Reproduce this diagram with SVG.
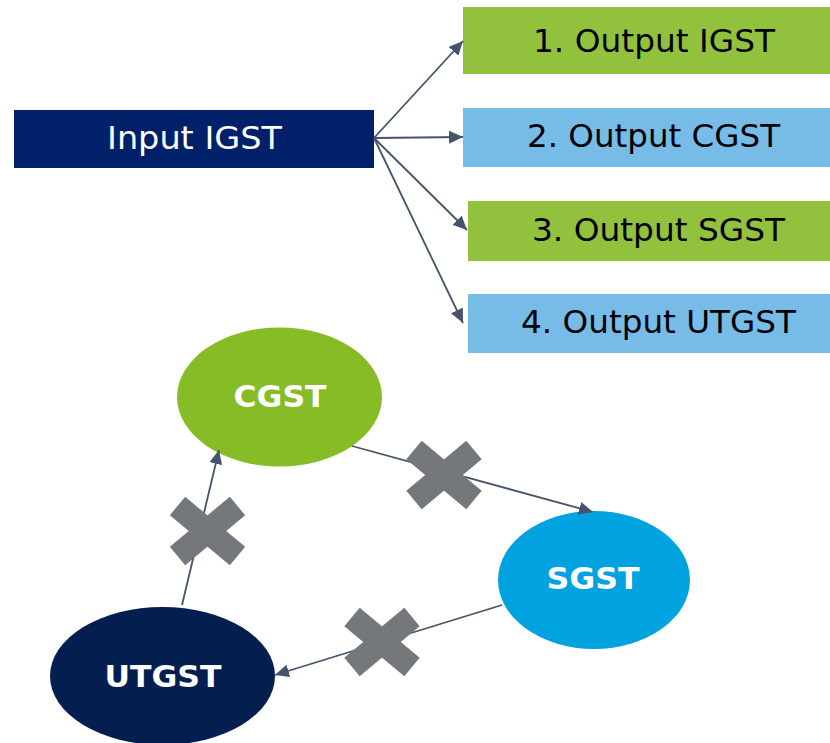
<svg xmlns="http://www.w3.org/2000/svg" width="830" height="743" viewBox="0 0 830 743">
  <style>
    .box-text { font-family: "DejaVu Sans", Verdana, sans-serif; font-size: 31.5px; }
    .node-text { font-family: "DejaVu Sans", Verdana, sans-serif; font-size: 30px; font-weight: bold; fill: #FFFFFF; text-anchor: middle; }
    .link { stroke: #44546A; stroke-width: 1.8; fill: none; marker-end: url(#arrow); }
    .cross line { stroke: #75787B; stroke-width: 24; stroke-linecap: butt; }
  </style>
  <defs>
    <marker id="arrow" markerUnits="userSpaceOnUse" markerWidth="14" markerHeight="13" viewBox="0 0 14 13" refX="14" refY="6.5" orient="auto">
      <path d="M0,0 L14,6.5 L0,13 Z" fill="#44546A"/>
    </marker>
  </defs>
  <rect width="830" height="743" fill="#FFFFFF"/>

  <!-- input and output boxes -->
  <g id="input-igst">
    <rect x="14" y="110" width="360" height="58" fill="#002169"/>
    <text class="box-text" x="107" y="149" fill="#FFFFFF" textLength="175" lengthAdjust="spacingAndGlyphs">Input IGST</text>
  </g>
  <g id="output-igst">
    <rect x="463" y="7" width="367" height="67" fill="#92C13E"/>
    <text class="box-text" x="533" y="52" fill="#000000" textLength="242" lengthAdjust="spacingAndGlyphs">1. Output IGST</text>
  </g>
  <g id="output-cgst">
    <rect x="463" y="108" width="367" height="59" fill="#76BCE7"/>
    <text class="box-text" x="527" y="147" fill="#000000" textLength="253" lengthAdjust="spacingAndGlyphs">2. Output CGST</text>
  </g>
  <g id="output-sgst">
    <rect x="468" y="201" width="362" height="60" fill="#92C13E"/>
    <text class="box-text" x="532" y="241" fill="#000000" textLength="253" lengthAdjust="spacingAndGlyphs">3. Output SGST</text>
  </g>
  <g id="output-utgst">
    <rect x="468" y="294" width="362" height="59" fill="#76BCE7"/>
    <text class="box-text" x="521" y="333" fill="#000000" textLength="275" lengthAdjust="spacingAndGlyphs">4. Output UTGST</text>
  </g>

  <!-- tax nodes -->
  <g id="cgst">
    <ellipse cx="279.5" cy="397" rx="102.5" ry="69.5" fill="#86BC25"/>
    <text class="node-text" x="280" y="407" textLength="93" lengthAdjust="spacingAndGlyphs">CGST</text>
  </g>
  <g id="sgst">
    <ellipse cx="594" cy="580" rx="96" ry="69" fill="#00A3E0"/>
    <text class="node-text" x="593" y="589" textLength="93" lengthAdjust="spacingAndGlyphs">SGST</text>
  </g>
  <g id="utgst">
    <ellipse cx="162.5" cy="676" rx="112.5" ry="69" fill="#041E50"/>
    <text class="node-text" x="163" y="687" textLength="117" lengthAdjust="spacingAndGlyphs">UTGST</text>
  </g>

  <!-- connectors -->
  <g id="connectors">
    <line class="link" x1="374" y1="138" x2="463" y2="41"/>
    <line class="link" x1="374" y1="138" x2="463" y2="137"/>
    <line class="link" x1="374" y1="138" x2="467" y2="230"/>
    <line class="link" x1="374" y1="138" x2="463" y2="323"/>
    <line class="link" x1="352" y1="446" x2="593" y2="512"/>
    <line class="link" x1="502" y1="605" x2="275" y2="675"/>
    <line class="link" x1="182" y1="605" x2="219" y2="450"/>
  </g>

  <!-- blocked-flow crosses -->
  <g id="cross-cgst-sgst" class="cross" transform="translate(444,475)">
    <line x1="-30" y1="-25" x2="30" y2="25"/>
    <line x1="-30" y1="25" x2="30" y2="-25"/>
  </g>
  <g id="cross-utgst-cgst" class="cross" transform="translate(207.5,531)">
    <line x1="-30" y1="-25" x2="30" y2="25"/>
    <line x1="-30" y1="25" x2="30" y2="-25"/>
  </g>
  <g id="cross-sgst-utgst" class="cross" transform="translate(382,642)">
    <line x1="-30" y1="-25" x2="30" y2="25"/>
    <line x1="-30" y1="25" x2="30" y2="-25"/>
  </g>
</svg>
